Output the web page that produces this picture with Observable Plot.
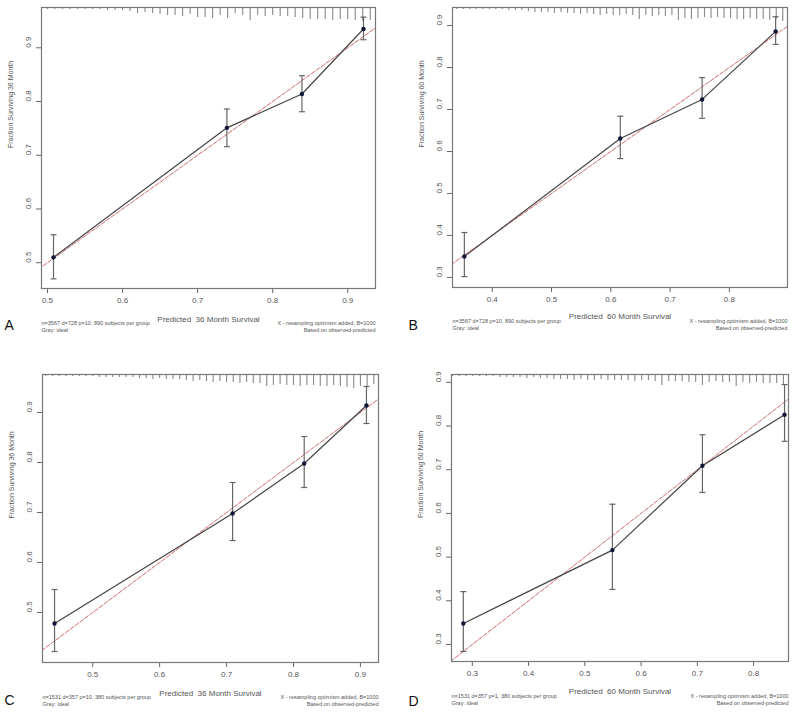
<!DOCTYPE html>
<html><head><meta charset="utf-8">
<script src="https://cdn.jsdelivr.net/npm/d3@7"></script>
<script src="https://cdn.jsdelivr.net/npm/@observablehq/plot@0.6"></script>
<style>
body{margin:0;background:#fff;}
#wrap{position:relative;width:800px;height:714px;overflow:hidden;}
.panel{position:absolute;}
</style></head><body><div id="wrap"></div>
<script>
// ---------- Panel A: 36-month, training cohort ----------
const predA = [0.508, 0.739, 0.839, 0.921];
const obsA  = [0.510, 0.751, 0.814, 0.935];
const loA   = [0.470, 0.716, 0.781, 0.915];
const hiA   = [0.552, 0.786, 0.848, 0.957];
const rugXA = [0.50,0.51,0.52,0.53,0.54,0.55,0.56,0.57,0.58,0.59,0.60,0.61,0.62,0.63,0.64,0.65,0.66,0.67,0.68,0.69,0.70,0.71,0.72,0.73,0.74,0.75,0.76,0.77,0.78,0.79,0.80,0.81,0.82,0.83,0.84,0.85,0.86,0.87,0.88,0.89,0.90,0.91,0.92,0.93];
const rugNA = [2,2,2,2,2,2,2,2,3,3,3,4,6,5,6,7,8,8,9,7,10,10,11,8,11,6,8,13,8,9,8,9,9,10,11,12,12,12,13,12,12,13,14,13];
const xTicksA = [0.5,0.6,0.7,0.8,0.9];
const yTicksA = [0.5,0.6,0.7,0.8,0.9];

// ---------- Panel B: 60-month, training cohort ----------
const predB = [0.353, 0.616, 0.754, 0.878];
const obsB  = [0.350, 0.631, 0.724, 0.886];
const loB   = [0.302, 0.583, 0.679, 0.855];
const hiB   = [0.407, 0.684, 0.776, 0.921];
const rugXB = [0.340,0.351,0.362,0.373,0.384,0.395,0.406,0.417,0.428,0.439,0.450,0.461,0.472,0.483,0.494,0.505,0.516,0.527,0.538,0.549,0.560,0.571,0.582,0.593,0.604,0.615,0.626,0.637,0.648,0.659,0.670,0.681,0.692,0.703,0.714,0.725,0.736,0.747,0.758,0.769,0.780,0.791,0.802,0.813,0.824,0.835,0.846,0.857,0.868,0.879,0.890];
const rugNB = [2,2,2,2,2,2,2,2,3,3,3,4,5,5,5,6,5,6,6,7,6,7,8,7,8,8,7,8,12,8,9,8,9,8,13,11,12,11,10,11,10,11,11,12,12,11,12,12,13,12,14];
const xTicksB = [0.4,0.5,0.6,0.7,0.8];
const yTicksB = [0.3,0.4,0.5,0.6,0.7,0.8,0.9];

// ---------- Panel C: 36-month, validation cohort ----------
const predC = [0.443, 0.709, 0.816, 0.909];
const obsC  = [0.478, 0.698, 0.798, 0.914];
const loC   = [0.422, 0.644, 0.750, 0.878];
const hiC   = [0.546, 0.760, 0.852, 0.952];
const rugXC = [0.43,0.44,0.45,0.46,0.47,0.48,0.49,0.50,0.51,0.52,0.53,0.54,0.55,0.56,0.57,0.58,0.59,0.60,0.61,0.62,0.63,0.64,0.65,0.66,0.67,0.68,0.69,0.70,0.71,0.72,0.73,0.74,0.75,0.76,0.77,0.78,0.79,0.80,0.81,0.82,0.83,0.84,0.85,0.86,0.87,0.88,0.89,0.90,0.91,0.92];
const rugNC = [2,2,2,2,2,2,2,2,3,3,3,3,3,3,4,4,5,4,5,5,5,6,7,6,7,8,7,8,8,9,8,9,9,12,11,10,11,11,12,11,11,12,12,11,12,13,14,12,13,10];
const xTicksC = [0.5,0.6,0.7,0.8,0.9];
const yTicksC = [0.5,0.6,0.7,0.8,0.9];

// ---------- Panel D: 60-month, validation cohort ----------
const predD = [0.284, 0.549, 0.709, 0.855];
const obsD  = [0.348, 0.516, 0.709, 0.826];
const loD   = [0.284, 0.426, 0.648, 0.765];
const hiD   = [0.421, 0.621, 0.780, 0.895];
const rugXD = [0.265,0.277,0.289,0.301,0.313,0.325,0.337,0.349,0.361,0.373,0.385,0.397,0.409,0.421,0.433,0.445,0.457,0.469,0.481,0.493,0.505,0.517,0.529,0.541,0.553,0.565,0.577,0.589,0.601,0.613,0.625,0.637,0.649,0.661,0.673,0.685,0.697,0.709,0.721,0.733,0.745,0.757,0.769,0.781,0.793,0.805,0.817,0.829,0.841,0.853];
const rugND = [2,2,2,2,2,2,2,3,3,3,3,4,3,4,4,5,5,5,6,5,6,6,5,6,6,6,6,7,6,6,7,11,7,7,7,8,8,11,8,7,8,8,12,8,9,8,9,9,9,10];
const xTicksD = [0.3,0.4,0.5,0.6,0.7,0.8];
const yTicksD = [0.3,0.4,0.5,0.6,0.7,0.8,0.9];

// ---------- Texts ----------
const ideal = [0, 1];
const rightCap1 = "X - resampling optimism added, B=1000";
const rightCap2 = "Based on observed-predicted";
const leftCap2 = "Gray: ideal";

const panels = [
  {letter:"A", left:0, top:0, height:357, ml:41, mr:25, mt:7, mb:69,
   xDomain:[0.492,0.937], yDomain:[0.452,0.975],
   pred:predA, obs:obsA, lo:loA, hi:hiA, rugX:rugXA, rugN:rugNA, xTicks:xTicksA, yTicks:yTicksA,
   xLabel:"Predicted  36 Month Survival", yLabel:"Fraction Surviving 36 Month",
   cap1:"n=3567 d=728 p=10, 890 subjects per group",
   tickDy:14, titleDy:33, c1Dy:36, c2Dy:43, letterDx:-37, letterDy:41},
  {letter:"B", left:400, top:0, height:357, ml:52, mr:13, mt:7, mb:70,
   xDomain:[0.333,0.898], yDomain:[0.276,0.943],
   pred:predB, obs:obsB, lo:loB, hi:hiB, rugX:rugXB, rugN:rugNB, xTicks:xTicksB, yTicks:yTicksB,
   xLabel:"Predicted  60 Month Survival", yLabel:"Fraction Surviving 60 Month",
   cap1:"n=3567 d=728 p=10, 890 subjects per group",
   tickDy:14, titleDy:31, c1Dy:35, c2Dy:42, letterDx:-44, letterDy:42},
  {letter:"C", left:0, top:357, height:357, ml:42, mr:22, mt:17, mb:52,
   xDomain:[0.425,0.927], yDomain:[0.40,0.976],
   pred:predC, obs:obsC, lo:loC, hi:hiC, rugX:rugXC, rugN:rugNC, xTicks:xTicksC, yTicks:yTicksC,
   xLabel:"Predicted  36 Month Survival", yLabel:"Fraction Surviving 36 Month",
   cap1:"n=1531 d=357 p=10, 380 subjects per group",
   tickDy:14, titleDy:33, c1Dy:36, c2Dy:43, letterDx:-38, letterDy:42},
  {letter:"D", left:400, top:357, height:357, ml:51, mr:12, mt:17, mb:53,
   xDomain:[0.263,0.862], yDomain:[0.261,0.918],
   pred:predD, obs:obsD, lo:loD, hi:hiD, rugX:rugXD, rugN:rugND, xTicks:xTicksD, yTicks:yTicksD,
   xLabel:"Predicted  60 Month Survival", yLabel:"Fraction Surviving 60 Month",
   cap1:"n=1531 d=357 p=1, 380 subjects per group",
   tickDy:14, titleDy:32, c1Dy:36, c2Dy:43, letterDx:-43, letterDy:44}
];

const cap = {draw(ctx){ ctx.moveTo(-3, 0); ctx.lineTo(3, 0); }};
const fmt = d => d.toFixed(1);
const FONT = "'Liberation Sans', Arial, Helvetica, sans-serif";

function drawPanel(cfg) {
  const pts = cfg.pred.map((x, i) => ({x, y: cfg.obs[i], lo: cfg.lo[i], hi: cfg.hi[i]}));
  const rug = cfg.rugX.map((x, i) => ({x, n: cfg.rugN[i]}));
  const innerH = cfg.height - cfg.mt - cfg.mb;
  const perPx = (cfg.yDomain[1] - cfg.yDomain[0]) / innerH;
  const top = cfg.yDomain[1];
  return Plot.plot({
    width: 400, height: cfg.height,
    marginTop: cfg.mt, marginBottom: cfg.mb, marginLeft: cfg.ml, marginRight: cfg.mr,
    style: {fontFamily: FONT, fontSize: "8px", color: "#666", background: "transparent", overflow: "visible"},
    x: {domain: cfg.xDomain, ticks: cfg.xTicks, tickSize: 5, tickFormat: () => "", label: null},
    y: {domain: cfg.yDomain, ticks: cfg.yTicks, tickSize: 5, tickFormat: () => "", label: null},
    marks: [
      Plot.ruleX(rug, {x: "x", y1: top, y2: d => top - d.n * perPx, stroke: "#888", strokeWidth: 1.1}),
      Plot.line(ideal, {x: d => d, y: d => d, stroke: "#e2e2e2", strokeWidth: 1, clip: true}),
      Plot.line(ideal, {x: d => d, y: d => d, stroke: "#dc7474", strokeWidth: 1, strokeDasharray: "4,2", clip: true}),
      Plot.line(pts, {x: "x", y: "y", stroke: "#444", strokeWidth: 1.2}),
      Plot.ruleX(pts, {x: "x", y1: "lo", y2: "hi", stroke: "#666", strokeWidth: 1.2}),
      Plot.dot(pts, {x: "x", y: "lo", symbol: cap, stroke: "#666", fill: "none", strokeWidth: 1.2}),
      Plot.dot(pts, {x: "x", y: "hi", symbol: cap, stroke: "#666", fill: "none", strokeWidth: 1.2}),
      Plot.dot(pts, {x: "x", y: "y", r: 2.2, fill: "#101638", stroke: "none"}),
      Plot.frame({stroke: "#777", strokeWidth: 1.2}),
      Plot.text(cfg.xTicks, {x: d => d, frameAnchor: "bottom", dy: cfg.tickDy, text: fmt, fontSize: 8, fill: "#555"}),
      Plot.text(cfg.yTicks, {y: d => d, frameAnchor: "left", dx: -13, rotate: -90, text: fmt, fontSize: 8, fill: "#555"}),
      Plot.text([cfg.yLabel], {frameAnchor: "left", dx: -31, rotate: -90, text: d => d, fontSize: 7, fill: "#555"}),
      Plot.text([cfg.xLabel], {frameAnchor: "bottom", dy: cfg.titleDy, text: d => d, fontSize: 8, fill: "#555"}),
      Plot.text([cfg.cap1], {frameAnchor: "bottom-left", textAnchor: "start", dy: cfg.c1Dy, text: d => d, fontSize: 5.5, fill: "#555"}),
      Plot.text([leftCap2], {frameAnchor: "bottom-left", textAnchor: "start", dy: cfg.c2Dy, text: d => d, fontSize: 5.5, fill: "#555"}),
      Plot.text([rightCap1], {frameAnchor: "bottom-right", textAnchor: "end", dy: cfg.c1Dy, text: d => d, fontSize: 5.5, fill: "#555"}),
      Plot.text([rightCap2], {frameAnchor: "bottom-right", textAnchor: "end", dy: cfg.c2Dy, text: d => d, fontSize: 5.5, fill: "#555"}),
      Plot.text([cfg.letter], {frameAnchor: "bottom-left", textAnchor: "start", dx: cfg.letterDx, dy: cfg.letterDy, text: d => d, fontSize: 14, fill: "#111"})
    ]
  });
}

const wrap = document.getElementById("wrap");
for (const cfg of panels) {
  const div = document.createElement("div");
  div.className = "panel";
  div.style.left = cfg.left + "px";
  div.style.top = cfg.top + "px";
  div.appendChild(drawPanel(cfg));
  wrap.appendChild(div);
}
</script>
</body></html>
